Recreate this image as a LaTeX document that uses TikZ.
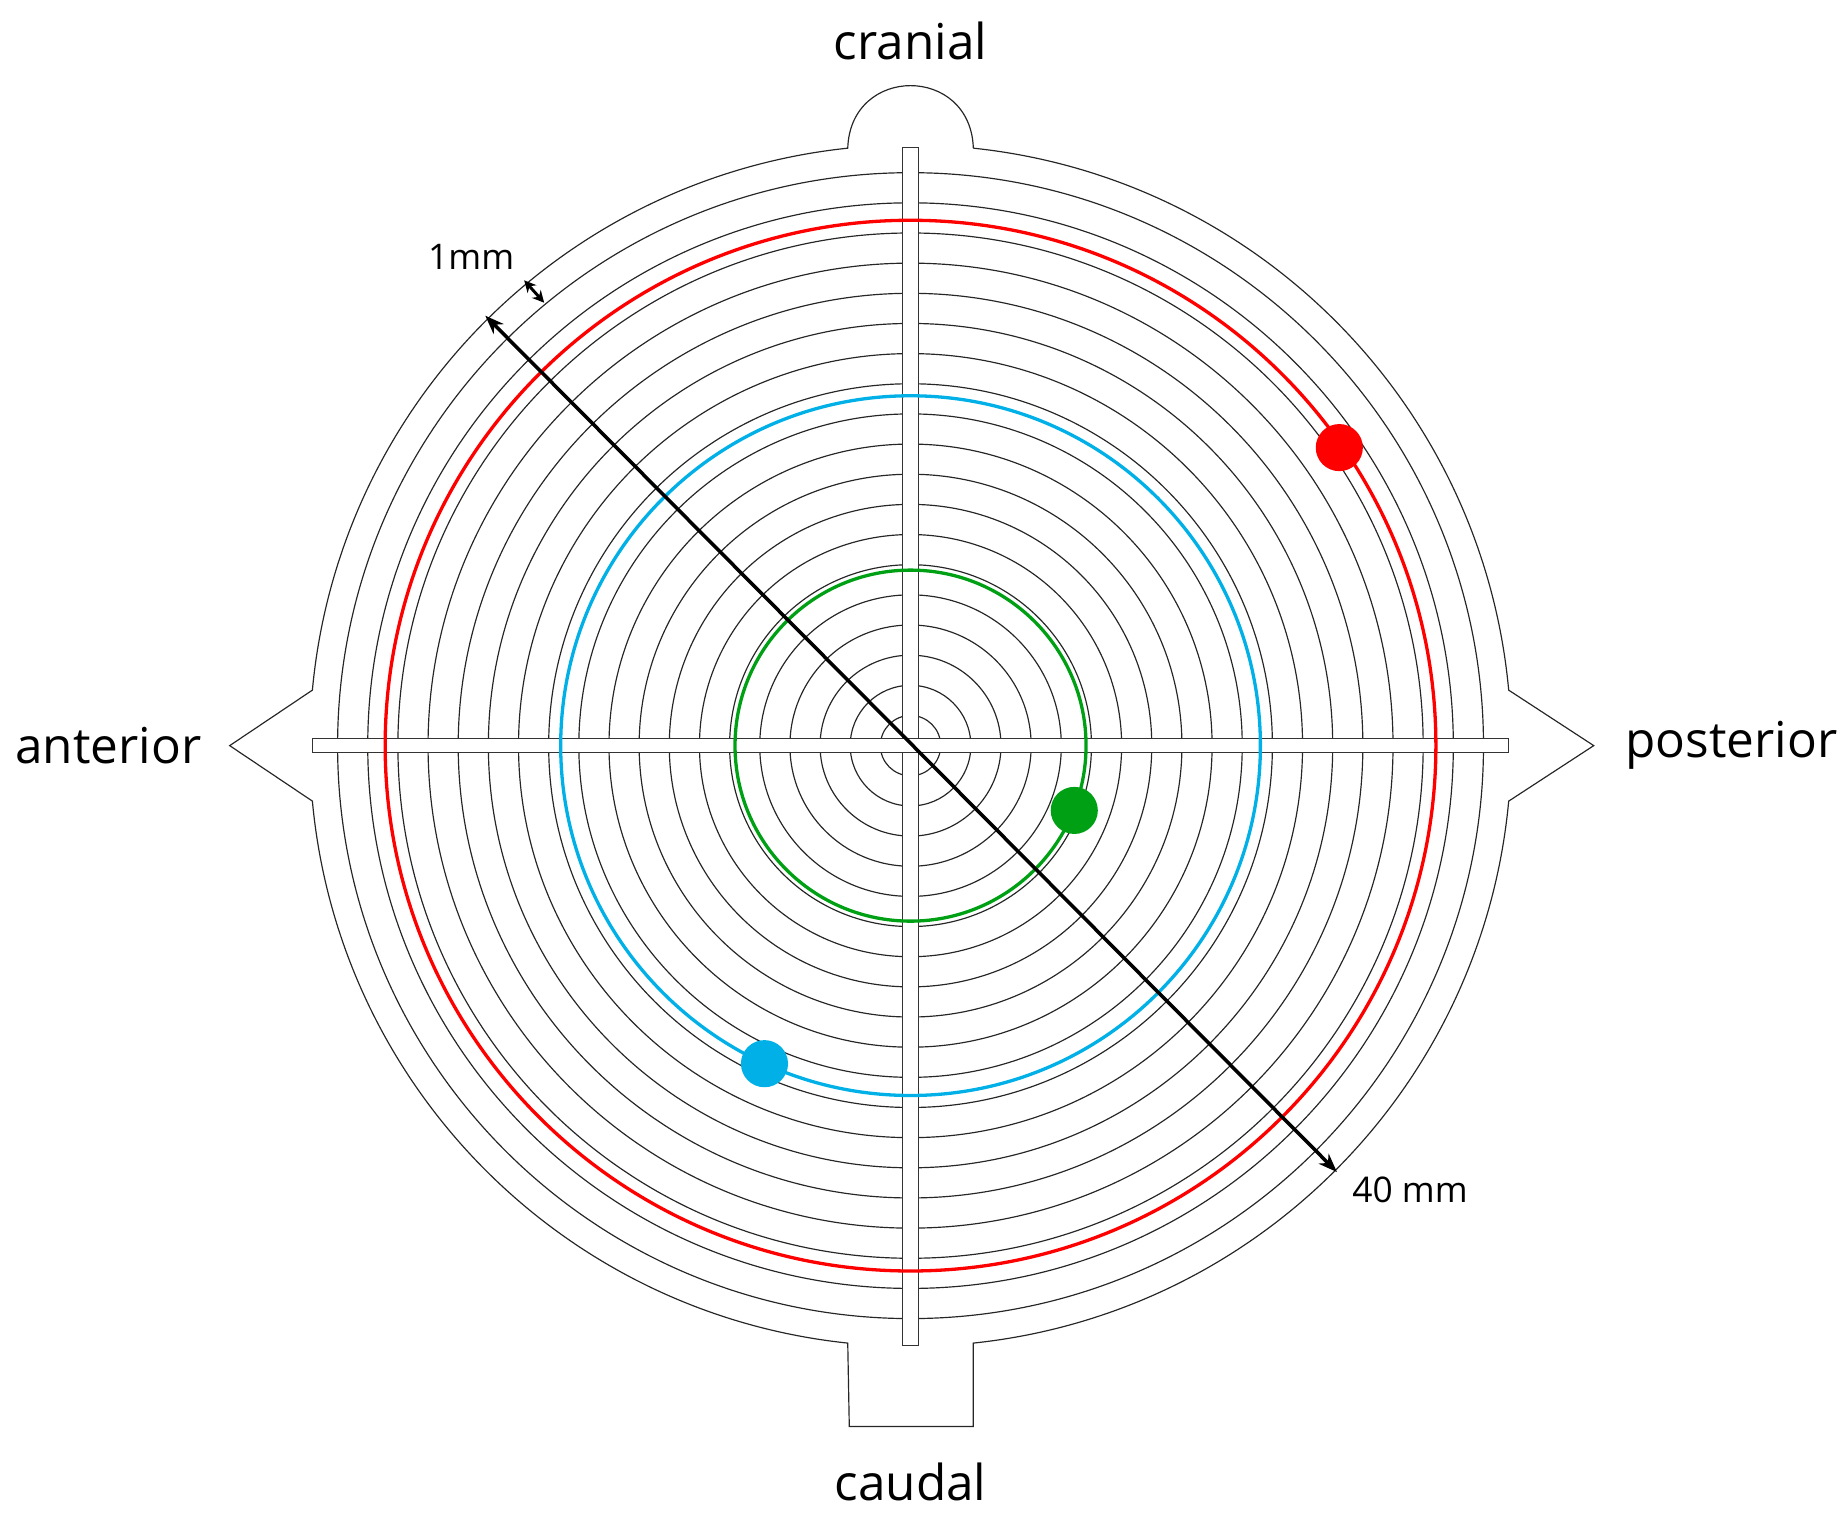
\documentclass[tikz,border=0pt]{standalone}
\usepackage{fontspec}
\setmainfont{Open Sans}
\usetikzlibrary{arrows.meta}
\definecolor{cred}{RGB}{255,0,0}
\definecolor{cblue}{RGB}{0,176,230}
\definecolor{cgreen}{RGB}{0,160,20}
\begin{document}
\begin{tikzpicture}[x=1pt,y=1pt,
  ring/.style={line width=1pt,black!85},
  bar/.style={fill=white,draw=black!80,line width=0.8pt},
  lab/.style={font=\fontsize{42}{44}\selectfont,inner sep=0},
  slab/.style={font=\fontsize{30}{32}\selectfont,inner sep=0},
  dot/.style={circle,minimum size=40pt,inner sep=0}]
\useasboundingbox (-773,-657) rectangle (795,633);
% outer boundary
\draw[line width=1pt,black!85] (84:510) arc[start angle=84,end angle=5.3,radius=510]
  -- (580,0) -- (-5.3:510) arc[start angle=-5.3,end angle=-84,radius=510]
  -- (53.3,-578) -- (-52,-578) -- (-96:510) arc[start angle=-96,end angle=-174.7,radius=510]
  -- (-578,0) -- (174.7:510) arc[start angle=174.7,end angle=96,radius=510]
  .. controls (-51,578) and (51,578) .. (84:510);
% rings
\foreach \k in {1,...,19} \draw[ring] (0,0) circle[radius=25.6*\k];
% bars
\draw[bar] (-7,-509) rectangle (7,508);
\draw[bar] (-508,-6) rectangle (508,6);
% coloured circles
\draw[cred,line width=2.8pt] (0,0) circle[radius=446];
\draw[cblue,line width=2.8pt] (0,0) circle[radius=297];
\draw[cgreen,line width=2.8pt] (0,0) circle[radius=149];
\node[dot,fill=cred] (rd) at (364,253) {};
\node[dot,fill=cgreen] (gd) at (139,-55) {};
\node[dot,fill=cblue] (bd) at (-124,-270) {};
% arrows
\coordinate (a1) at (-361,365);
\coordinate (a2) at (362,-362);
\draw[line width=3pt,{Stealth[length=16pt,width=12pt]}-{Stealth[length=16pt,width=12pt]}] (a1) -- (a2);
\coordinate (m1) at (-328,395);
\coordinate (m2) at (-311,376);
\draw[line width=2.5pt,{Stealth[length=10pt,width=10pt]}-{Stealth[length=10pt,width=10pt]}] (m1) -- (m2);
% labels
\node[lab] (cr) at (0,598) {cranial};
\node[lab] (ca) at (0,-625) {caudal};
\node[lab] (an) at (-681,0) {anterior};
\node[lab] (po) at (697,0) {posterior};
\node[slab] (mm) at (-373,415) {1mm};
\node[slab] (fm) at (424,-377) {40 mm};
\end{tikzpicture}
\end{document}
